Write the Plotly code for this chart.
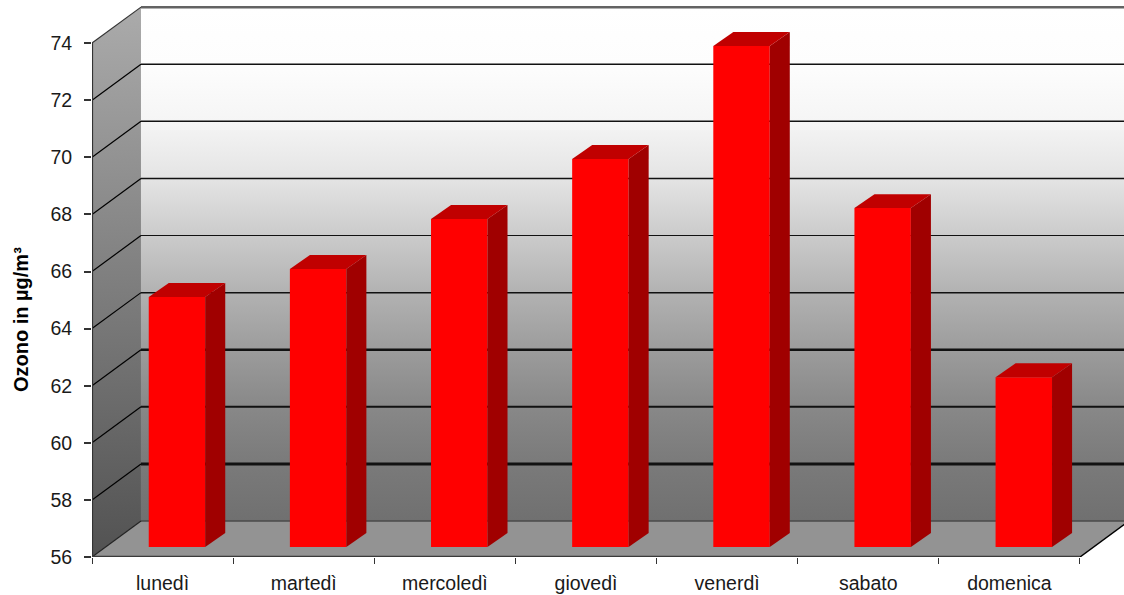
import plotly.graph_objects as go

days = ["lunedì", "martedì", "mercoledì", "giovedì", "venerdì", "sabato", "domenica"]
ozone = [64.76, 65.74, 67.49, 69.59, 73.55, 67.87, 61.95]
y_ticks = [56, 58, 60, 62, 64, 66, 68, 70, 72, 74]
y_title = "Ozono in µg/m³"

# Pseudo-3D projection, in axis units
WALL_DX, WALL_DY = 0.347, 1.26      # depth of the chart box
BAR_SHIFT_X, BAR_SHIFT_Y = 0.102, 0.35  # bar front face offset from the front plane
BAR_W = 0.40
BAR_DX, BAR_DY = 0.142, 0.49        # depth of a bar
Y0, Y1 = 56, 74
X0, X1 = -0.5, 6.5
grid_width = {58: 3, 60: 2, 62: 2.5, 64: 1.5, 66: 1.1, 68: 1.5, 70: 1.5, 72: 1.5}
wall_colors = ["#707070", "#7a7a7a", "#888888", "#9c9c9c", "#b2b2b2",
               "#cbcbcb", "#e4e4e4", "#f5f5f5", "#fdfdfd", "#ffffff"]

fig = go.Figure()
def poly(xs, ys, color=None, grad=None, xa="x", ya="y", line=None):
    kw = dict(fillgradient=grad) if grad else dict(fillcolor=color)
    fig.add_trace(go.Scatter(x=xs, y=ys, mode="lines", fill="toself", xaxis=xa, yaxis=ya,
                             line=line or dict(width=0), hoverinfo="skip", showlegend=False, **kw))

def seg(xs, ys, color, width, clip=True, xa="x", ya="y"):
    fig.add_trace(go.Scatter(x=xs, y=ys, mode="lines", line=dict(color=color, width=width), xaxis=xa, yaxis=ya,
                             cliponaxis=clip, hoverinfo="skip", showlegend=False))

# back wall
poly([X0 + WALL_DX, X1 + WALL_DX, X1 + WALL_DX, X0 + WALL_DX],
     [Y0 + WALL_DY, Y0 + WALL_DY, Y1 + WALL_DY, Y1 + WALL_DY],
     grad=dict(type="vertical", start=Y0 + WALL_DY, stop=Y1 + WALL_DY,
               colorscale=[[i / 9, c] for i, c in enumerate(wall_colors)]))
# left wall
poly([X0, X0 + WALL_DX, X0 + WALL_DX, X0],
     [Y0, Y0 + WALL_DY, Y1 + WALL_DY, Y1],
     grad=dict(type="vertical", start=Y0, stop=Y1 + WALL_DY, colorscale=[[0, "#525252"], [1, "#ababab"]]))
# floor
poly([X0, X1, X1 + WALL_DX, X0 + WALL_DX],
     [Y0, Y0, Y0 + WALL_DY, Y0 + WALL_DY], color="#939393")

# gridlines
for v in y_ticks[1:-1]:
    seg([X0 + WALL_DX, X1 + WALL_DX], [v + WALL_DY, v + WALL_DY], "#111111", grid_width[v])
    seg([X0, X0 + WALL_DX], [v, v + WALL_DY], "#000000", 1.2)
seg([X0, X0 + WALL_DX], [Y1, Y1 + WALL_DY], "#333333", 1.2)
seg([X0 + WALL_DX, X1 + WALL_DX], [Y1 + WALL_DY, Y1 + WALL_DY], "#636363", 2.5)
seg([X0 + WALL_DX, X1 + WALL_DX], [Y0 + WALL_DY, Y0 + WALL_DY], "#4a4a4a", 1.5)
seg([X0, X0 + WALL_DX], [Y0, Y0 + WALL_DY], "#222222", 1.2)
seg([X1, X1 + WALL_DX], [Y0, Y0 + WALL_DY], "#000000", 1.5)
# axis lines
seg([X0, X0], [Y0, Y1], "#333333", 2.2, clip=False)
seg([X0, X1], [Y0, Y0], "#3a3a3a", 2.5, clip=False)

# bars: front faces on an overlay subplot so they sit over the walls
centers = [i + BAR_SHIFT_X for i in range(len(days))]
base = Y0 + BAR_SHIFT_Y
fig.add_trace(go.Bar(x=centers, y=[v - Y0 for v in ozone], base=base, width=BAR_W,
                     marker=dict(color="#ff0000", line=dict(width=0)),
                     xaxis="x2", yaxis="y2", hoverinfo="skip", showlegend=False))
for c, v in zip(centers, ozone):
    xl, xr = c - BAR_W / 2, c + BAR_W / 2
    top = v + BAR_SHIFT_Y
    poly([xr, xr + BAR_DX, xr + BAR_DX, xr], [base, base + BAR_DY, top + BAR_DY, top],
         color="#a00000", xa="x2", ya="y2")
    poly([xl, xr, xr + BAR_DX, xl + BAR_DX], [top, top, top + BAR_DY, top + BAR_DY],
         color="#c00000", xa="x2", ya="y2")

FONT = "Liberation Sans, Arial, sans-serif"
xrange = [X0, X0 + 1032 / 141.14]
yrange = [Y0, Y0 + 557 / 28.55]
fig.update_layout(
    width=1124, height=595, autosize=False,
    margin=dict(l=92, r=0, t=0, b=38, pad=0, autoexpand=False),
    paper_bgcolor="#ffffff", plot_bgcolor="#ffffff",
    font=dict(family=FONT, color="#000000"),
    barmode="overlay", showlegend=False,
    xaxis=dict(range=xrange, tickmode="array", tickvals=list(range(len(days))), ticktext=days,
               ticks="outside", ticklen=9, tickcolor="rgba(0,0,0,0)", tickfont=dict(size=19.5, family=FONT, color="#1a1a1a"),
               showgrid=False, zeroline=False, showline=False, automargin=False,
               minor=dict(tickmode="array", tickvals=[X0 + i for i in range(8)], ticks="outside",
                          ticklen=6, tickwidth=1.2, tickcolor="#333333", showgrid=False)),
    yaxis=dict(range=yrange, tickmode="array", tickvals=y_ticks, ticks="outside", ticklen=7,
               tickwidth=1.5, tickcolor="#333333", tickfont=dict(size=19.5, family=FONT, color="#1a1a1a"),
               ticklabelstandoff=8,
               showgrid=False, zeroline=False, showline=False, automargin=False),
    xaxis2=dict(overlaying="x", matches="x", visible=False),
    yaxis2=dict(overlaying="y", matches="y", visible=False),
    annotations=[dict(text=y_title, textangle=-90, xref="paper", yref="y", x=0, y=64.3,
                      xanchor="center", yanchor="middle", xshift=-71, showarrow=False,
                      font=dict(size=20, family=FONT, weight="bold"))],
)
fig.write_html("out.html", config=dict(displayModeBar=False),
               post_script="document.body.style.margin='0';document.body.style.overflow='hidden';")
